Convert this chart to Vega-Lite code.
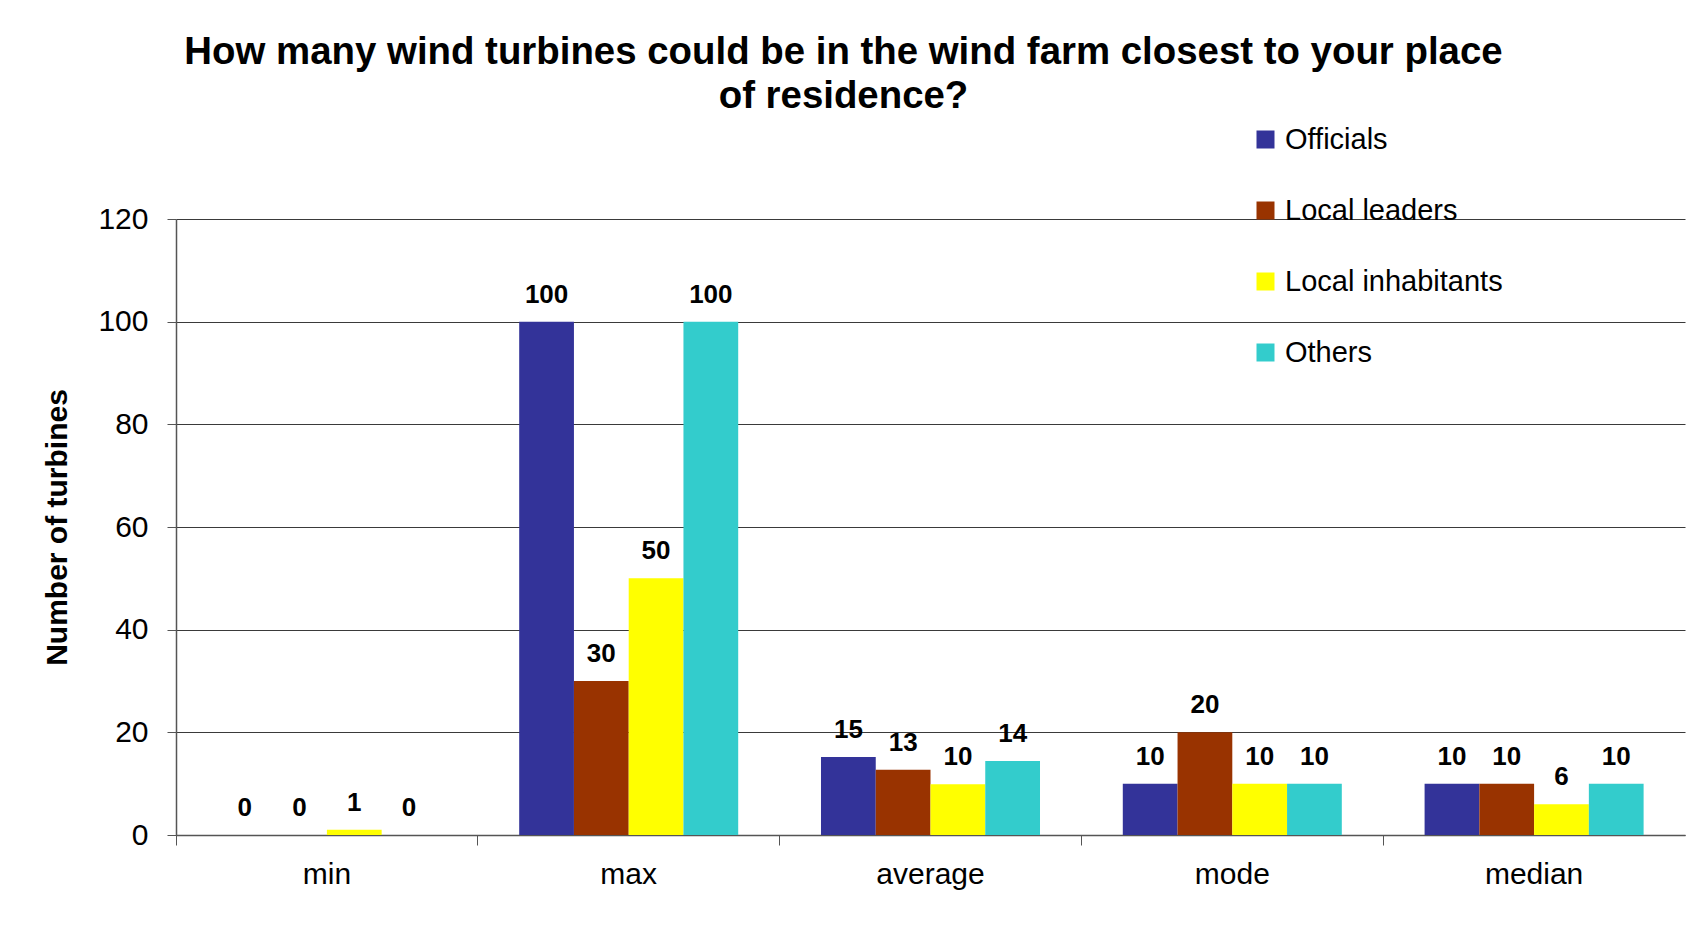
{
  "$schema": "https://vega.github.io/schema/vega-lite/v6.json",
  "autosize": "none",
  "width": 1509,
  "height": 616,
  "padding": {"left": 176, "top": 219, "right": 13, "bottom": 98},
  "background": "white",
  "config": {
    "font": "Liberation Sans",
    "view": {"stroke": null},
    "axis": {"labelFont": "Liberation Sans", "titleFont": "Liberation Sans"}
  },
  "title": {
    "text": ["How many wind turbines could be in the wind farm closest to your place", "of residence?"],
    "font": "Liberation Sans",
    "fontSize": 38.4,
    "fontWeight": "bold",
    "color": "black",
    "anchor": "middle",
    "frame": "group",
    "dx": -87,
    "offset": 9,
    "lineHeight": 44
  },
  "data": {
    "values": [
      {"stat": "min", "group": "Officials", "value": 0, "label": "0"},
      {"stat": "min", "group": "Local leaders", "value": 0, "label": "0"},
      {"stat": "min", "group": "Local inhabitants", "value": 1, "label": "1"},
      {"stat": "min", "group": "Others", "value": 0, "label": "0"},
      {"stat": "max", "group": "Officials", "value": 100, "label": "100"},
      {"stat": "max", "group": "Local leaders", "value": 30, "label": "30"},
      {"stat": "max", "group": "Local inhabitants", "value": 50, "label": "50"},
      {"stat": "max", "group": "Others", "value": 100, "label": "100"},
      {"stat": "average", "group": "Officials", "value": 15.2, "label": "15"},
      {"stat": "average", "group": "Local leaders", "value": 12.7, "label": "13"},
      {"stat": "average", "group": "Local inhabitants", "value": 9.9, "label": "10"},
      {"stat": "average", "group": "Others", "value": 14.4, "label": "14"},
      {"stat": "mode", "group": "Officials", "value": 10, "label": "10"},
      {"stat": "mode", "group": "Local leaders", "value": 20, "label": "20"},
      {"stat": "mode", "group": "Local inhabitants", "value": 10, "label": "10"},
      {"stat": "mode", "group": "Others", "value": 10, "label": "10"},
      {"stat": "median", "group": "Officials", "value": 10, "label": "10"},
      {"stat": "median", "group": "Local leaders", "value": 10, "label": "10"},
      {"stat": "median", "group": "Local inhabitants", "value": 6, "label": "6"},
      {"stat": "median", "group": "Others", "value": 10, "label": "10"}
    ]
  },
  "encoding": {
    "x": {
      "field": "stat",
      "type": "nominal",
      "sort": ["min", "max", "average", "mode", "median"],
      "scale": {"paddingInner": 0, "paddingOuter": 0},
      "axis": {
        "title": null,
        "labelAngle": 0,
        "labelFontSize": 30,
        "labelColor": "black",
        "labelPadding": 14,
        "tickSize": 10,
        "tickColor": "#555555",
        "domainColor": "#555555",
        "domainWidth": 1.5,
        "bandPosition": 0,
        "grid": false
      }
    },
    "xOffset": {
      "field": "group",
      "type": "nominal",
      "sort": ["Officials", "Local leaders", "Local inhabitants", "Others"],
      "scale": {"paddingInner": 0, "paddingOuter": 0.756}
    },
    "y": {
      "field": "value",
      "type": "quantitative",
      "scale": {"domain": [0, 120], "nice": false},
      "axis": {
        "title": "Number of turbines",
        "titleFontSize": 30,
        "titleFontWeight": "bold",
        "titleColor": "black",
        "titlePadding": 25,
        "values": [0, 20, 40, 60, 80, 100, 120],
        "labelFontSize": 30,
        "labelColor": "black",
        "labelPadding": 19,
        "tickSize": 9,
        "tickColor": "#555555",
        "domainColor": "#555555",
        "domainWidth": 1.5,
        "gridColor": "#3a3a3a",
        "gridWidth": 1.2
      }
    }
  },
  "layer": [
    {
      "mark": {"type": "bar"},
      "encoding": {
        "color": {
          "field": "group",
          "type": "nominal",
          "sort": ["Officials", "Local leaders", "Local inhabitants", "Others"],
          "scale": {
            "domain": ["Officials", "Local leaders", "Local inhabitants", "Others"],
            "range": ["#333399", "#993300", "#FFFF00", "#33CCCC"]
          },
          "legend": {
            "title": null,
            "orient": "none",
            "legendX": 1075,
            "legendY": -94,
            "symbolType": "square",
            "symbolSize": 324,
            "symbolStrokeWidth": 0,
            "symbolOpacity": 1,
            "labelFontSize": 29,
            "labelColor": "black",
            "labelOffset": 5,
            "labelLimit": 400,
            "rowPadding": 41
          }
        }
      }
    },
    {
      "mark": {"type": "text", "fontSize": 26, "fontWeight": "bold", "color": "black", "baseline": "alphabetic", "dy": -19},
      "encoding": {
        "text": {"field": "label", "type": "nominal"}
      }
    }
  ]
}
